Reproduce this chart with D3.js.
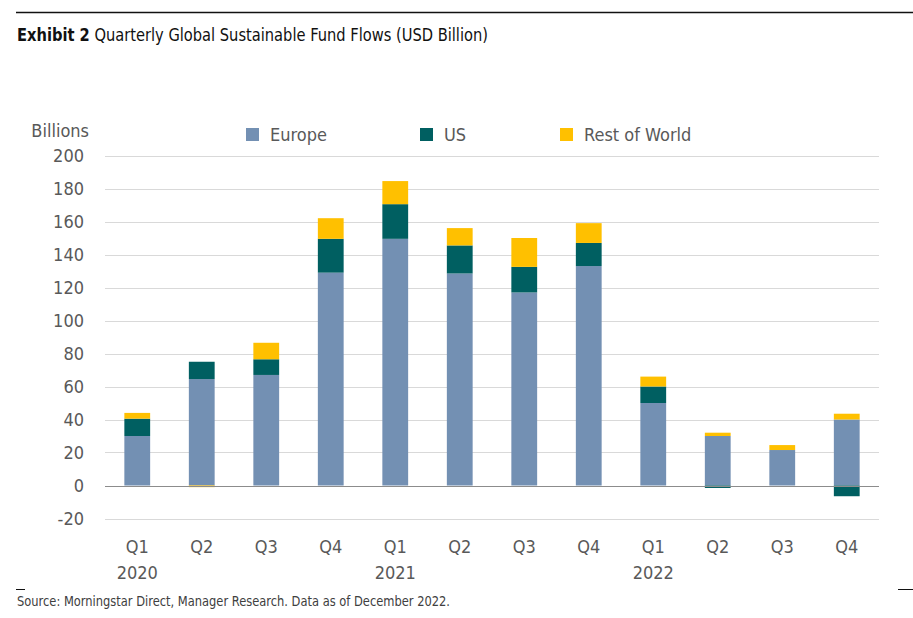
<!DOCTYPE html>
<html lang="en">
<head>
    <meta charset="UTF-8" />
    <script src="https://d3js.org/d3.v7.min.js"></script>
    <title>Exhibit 2</title>
    <style>
        body {
            margin: 0;
            background: #fff;
        }

        svg text {
            font-family: "Liberation Sans Narrow", "DejaVu Sans Condensed", "Roboto", sans-serif;
        }

        .grid line {
            stroke: #d9d9d9;
            stroke-width: 1;
        }

        .tick-label {
            font-size: 18px;
            fill: #595959;
        }
    </style>
</head>
<body>
    <svg id="chart" width="913" height="618"></svg>
    <script>
        // data (USD billion)
        const quarters = ["Q1", "Q2", "Q3", "Q4", "Q1", "Q2", "Q3", "Q4", "Q1", "Q2", "Q3", "Q4"];
        const years = ["2020", "", "", "", "2021", "", "", "", "2022", "", "", ""];
        const europe = [30, 64.5, 67, 129, 149.5, 128.5, 117, 133, 50, 30, 21.5, 40];
        const us = [10.5, 10.5, 9.5, 20.5, 21, 17, 15.5, 14, 10, -1.5, 0, -6.5];
        const restOfWorld = [3.5, -1, 10, 12.5, 14, 10.5, 17.5, 12, 6, 2, 3, 3.5];
        const seriesNames = ["Europe", "US", "Rest of World"];
        const seriesColors = ["#7390b3", "#005f61", "#ffc000"];
        const yTicks = [-20, 0, 20, 40, 60, 80, 100, 120, 140, 160, 180, 200];

        const svg = d3.select("#chart");

        // rows for the stack
        const rows = quarters.map((q, i) => ({
            idx: i,
            "Europe": europe[i],
            "US": us[i],
            "Rest of World": restOfWorld[i]
        }));

        const stacked = d3.stack()
            .keys(seriesNames)
            .offset(d3.stackOffsetDiverging)(rows);

        const x = d3.scaleBand()
            .domain(d3.range(quarters.length))
            .range([105, 879])
            .paddingInner(0.6)
            .paddingOuter(0.3);

        const y = d3.scaleLinear()
            .domain([-20, 200])
            .range([518.5, 155.5]);

        const color = d3.scaleOrdinal(seriesNames, seriesColors);

        // top rule and title
        svg.append("line")
            .attr("x1", 16).attr("x2", 913)
            .attr("y1", 12.5).attr("y2", 12.5)
            .attr("stroke", "#111").attr("stroke-width", 1.3);

        const title = svg.append("text")
            .attr("x", 17).attr("y", 41)
            .attr("font-size", 18)
            .attr("fill", "#111")
            .attr("textLength", 471)
            .attr("lengthAdjust", "spacingAndGlyphs");
        title.append("tspan").attr("font-weight", "bold").text("Exhibit 2");
        title.append("tspan").text(" Quarterly Global Sustainable Fund Flows (USD Billion)");

        // gridlines
        const grid = svg.append("g").attr("class", "grid");
        grid.selectAll("line")
            .data(yTicks.filter(t => t !== 0))
            .join("line")
            .attr("x1", 105).attr("x2", 879)
            .attr("y1", d => Math.round(y(d)) + 0.5)
            .attr("y2", d => Math.round(y(d)) + 0.5);

        // y tick labels
        svg.append("g")
            .selectAll("text")
            .data(yTicks)
            .join("text")
            .attr("class", "tick-label")
            .attr("x", 84)
            .attr("y", d => y(d))
            .attr("dy", "0.36em")
            .attr("text-anchor", "end")
            .text(d => d);

        svg.append("text")
            .attr("class", "tick-label")
            .attr("x", 89)
            .attr("y", 137)
            .attr("text-anchor", "end")
            .text("Billions");

        // bars
        svg.append("g")
            .selectAll("g")
            .data(stacked)
            .join("g")
            .attr("fill", d => color(d.key))
            .selectAll("rect")
            .data(d => d)
            .join("rect")
            .attr("x", d => x(d.data.idx))
            .attr("width", x.bandwidth())
            .attr("y", d => y(Math.max(d[0], d[1])))
            .attr("height", d => Math.abs(y(d[0]) - y(d[1])));

        // zero line
        svg.append("line")
            .attr("x1", 105).attr("x2", 879)
            .attr("y1", Math.round(y(0)) + 0.5).attr("y2", Math.round(y(0)) + 0.5)
            .attr("stroke", "#8c8c8c").attr("stroke-width", 1);

        // x labels
        const xl = svg.append("g");
        xl.selectAll("text.q")
            .data(quarters)
            .join("text")
            .attr("class", "tick-label q")
            .attr("x", (d, i) => x(i) + x.bandwidth() / 2)
            .attr("y", 553)
            .attr("text-anchor", "middle")
            .text(d => d);
        xl.selectAll("text.yr")
            .data(years)
            .join("text")
            .attr("class", "tick-label yr")
            .attr("x", (d, i) => x(i) + x.bandwidth() / 2)
            .attr("y", 579)
            .attr("text-anchor", "middle")
            .text(d => d);

        // legend
        const legendX = [246, 420, 560];
        const lg = svg.append("g")
            .selectAll("g")
            .data(seriesNames)
            .join("g")
            .attr("transform", (d, i) => `translate(${legendX[i]},128)`);
        lg.append("rect")
            .attr("width", 13).attr("height", 13)
            .attr("fill", d => color(d));
        lg.append("text")
            .attr("class", "tick-label")
            .attr("x", 24)
            .attr("y", 13)
            .text(d => d);

        // footer
        svg.append("line")
            .attr("x1", 16).attr("x2", 25)
            .attr("y1", 589.5).attr("y2", 589.5)
            .attr("stroke", "#111");
        svg.append("line")
            .attr("x1", 898).attr("x2", 913)
            .attr("y1", 589.5).attr("y2", 589.5)
            .attr("stroke", "#111");
        svg.append("text")
            .attr("x", 17).attr("y", 606)
            .attr("font-size", 13.5)
            .attr("fill", "#404040")
            .attr("textLength", 433)
            .attr("lengthAdjust", "spacingAndGlyphs")
            .text("Source: Morningstar Direct, Manager Research. Data as of December 2022.");
    </script>
</body>
</html>
